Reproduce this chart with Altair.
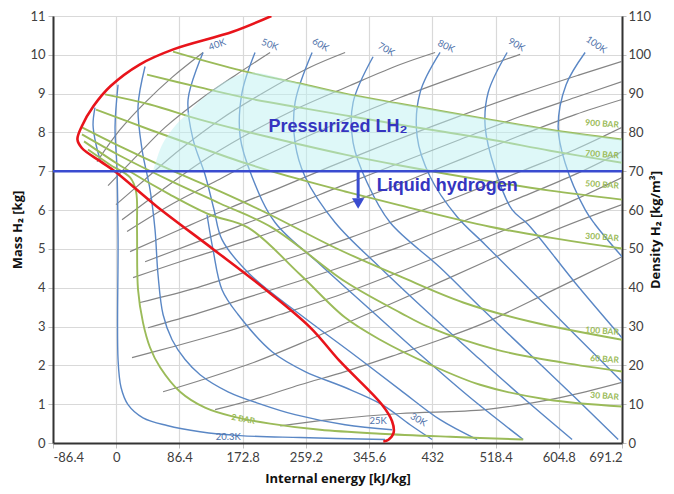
import altair as alt
import pandas as pd

# ---------------- axes ----------------
X_TICKS = [-86.4, 0, 86.4, 172.8, 259.2, 345.6, 432, 518.4, 604.8, 691.2]
MASS_TICKS = list(range(0, 12))
DENSITY_TICKS = list(range(0, 111, 10))

# ---------------- red boundary (melting / saturation) ----------------
RED_X = [212, 160, 78, 32, -8, -31, -47, -53, -47, -22, -2, 55, 132, 201, 265, 306, 363, 377, 379, 372, 365]
RED_Y = [11.0, 10.6, 10.14, 9.75, 9.19, 8.68, 8.16, 7.82, 7.6, 7.26, 7.0, 6.1, 5.0, 4.0, 2.98, 2.1, 0.99, 0.56, 0.26, 0.085, 0.04]

# ---------------- isotherms (blue) ----------------
T_LOW_X = [-29.0, -31.7, -27.6, -20.8]
T_LOW_Y = [8.64, 8.20, 7.69, 7.22]
T20_X = [2.5, -1.6, 1.1, 2.5, 2.5, 6.6, 16.1, 36.6, 69.4, 114.6, 169.3, 251.3, 367.4]
T20_Y = [9.23, 8.15, 7.04, 5.24, 2.15, 1.43, 0.99, 0.65, 0.45, 0.29, 0.19, 0.14, 0.09]
T25_X = [39.4, 29.8, 35.3, 46.2, 53.0, 57.1, 64.0, 76.3, 94.1, 114.6, 152.8, 199.3, 244.4, 312.8, 377.0]
T25_Y = [9.70, 8.67, 7.56, 6.53, 5.50, 4.34, 3.31, 2.66, 2.15, 1.76, 1.32, 0.99, 0.73, 0.47, 0.34]
T30_X = [124.1, 132.3, 144.6, 166.5, 213.0, 258.1, 312.8, 363.3, 401.6, 431.7]
T30_Y = [5.88, 4.98, 3.95, 3.31, 2.35, 1.84, 1.43, 0.99, 0.47, 0.09]
T40_X = [118.7, 98.2, 105.0, 121.4, 133.7, 144.6, 182.9, 251.3, 319.6, 388.0, 442.6, 493.2]
T40_Y = [10.06, 8.85, 7.82, 6.91, 6.01, 5.24, 4.34, 3.31, 2.35, 1.37, 0.60, 0.09]
T50_X = [189.7, 172.0, 169.3, 185.6, 217.1, 278.6, 346.9, 415.3, 483.6, 556.1]
T50_Y = [10.06, 9.03, 7.90, 6.86, 5.68, 4.60, 3.44, 2.28, 1.17, 0.09]
T60_X = [267.7, 244.4, 244.4, 258.1, 299.1, 360.6, 429.0, 497.3, 558.8, 623.0]
T60_Y = [10.06, 8.77, 7.74, 6.86, 5.68, 4.52, 3.31, 2.15, 1.12, 0.09]
T70_X = [351.0, 323.7, 323.7, 342.8, 374.3, 442.6, 504.2, 565.6, 627.1, 686.0]
T70_Y = [9.95, 8.77, 7.74, 6.71, 5.68, 4.52, 3.38, 2.28, 1.17, 0.09]
T80_X = [442.6, 415.3, 411.2, 429.0, 465.8, 504.2, 565.6, 627.1, 691.2]
T80_Y = [10.06, 9.03, 7.90, 6.86, 5.83, 5.11, 3.95, 2.79, 1.58]
T90_X = [534.2, 508.3, 504.2, 517.8, 541.0, 562.9, 627.1, 691.2]
T90_Y = [10.06, 9.03, 8.15, 7.04, 6.01, 5.63, 4.13, 2.71]
T100_X = [640.8, 614.8, 603.9, 613.4, 640.8, 654.5, 691.2]
T100_Y = [10.06, 9.23, 8.15, 7.22, 6.01, 5.63, 4.80]

# ---------------- isobars (green) ----------------
P900_X = [77.6, 114.6, 182.9, 251.3, 312.8, 388.0, 511.0, 593.0, 691.2]
P900_Y = [10.08, 9.88, 9.54, 9.26, 9.00, 8.74, 8.33, 8.07, 7.82]
P700_X = [42.1, 114.6, 182.9, 251.3, 312.8, 388.0, 511.0, 593.0, 691.2]
P700_Y = [9.49, 9.16, 8.87, 8.64, 8.44, 8.20, 7.82, 7.53, 7.22]
P500_X = [-15.3, 46.2, 114.6, 182.9, 251.3, 312.8, 388.0, 511.0, 593.0, 691.2]
P500_Y = [8.98, 8.72, 8.33, 8.00, 7.69, 7.43, 7.15, 6.74, 6.50, 6.27]
P300_X = [-27.6, 46.2, 114.6, 182.9, 251.3, 312.8, 388.0, 511.0, 593.0, 691.2]
P300_Y = [8.59, 8.07, 7.61, 7.17, 6.79, 6.48, 6.12, 5.57, 5.29, 5.01]
P100_X = [-46.8, 5.2, 73.5, 141.9, 210.3, 299.1, 388.0, 474.1, 565.6, 691.2]
P100_Y = [8.13, 7.64, 7.04, 6.48, 5.88, 5.03, 4.29, 3.62, 3.13, 2.66]
P60_X = [-46.8, 5.2, 73.5, 141.9, 213.0, 312.8, 388.0, 429.0, 520.5, 610.7, 691.2]
P60_Y = [7.95, 7.40, 6.76, 6.17, 5.55, 4.16, 3.36, 2.97, 2.40, 2.07, 1.84]
P30_X = [-44.0, 5.2, 73.5, 128.2, 180.2, 251.3, 312.8, 360.6, 429.0, 497.3, 588.9, 691.2]
P30_Y = [7.77, 7.15, 6.40, 5.88, 5.55, 4.34, 3.23, 2.66, 2.02, 1.50, 1.12, 0.94]
P2_X = [-38.6, -8.5, 18.9, 27.1, 28.4, 29.8, 36.6, 46.2, 59.9, 87.2, 121.4, 159.7, 210.3, 278.6, 360.6, 456.3, 556.1]
P2_Y = [7.56, 7.17, 6.84, 6.48, 5.50, 3.95, 3.10, 2.46, 1.95, 1.32, 0.91, 0.68, 0.50, 0.34, 0.24, 0.16, 0.09]

# ---------------- gray curves ----------------
G1_X = [-26.2, 5.2, 39.4, 76.3, 118.7]
G1_Y = [7.25, 8.07, 8.77, 9.42, 10.06]
G2_X = [-11.2, 25.7, 66.7, 114.6, 162.4, 210.3]
G2_Y = [6.63, 7.35, 8.13, 8.85, 9.47, 10.06]
G3_X = [-0.3, 39.4, 87.2, 141.9, 203.4, 265.0, 312.8]
G3_Y = [6.14, 6.79, 7.56, 8.33, 9.05, 9.68, 10.06]
G4_X = [7.9, 59.9, 114.6, 176.1, 244.4, 319.6, 388.0, 435.8]
G4_Y = [5.75, 6.48, 7.22, 7.92, 8.59, 9.21, 9.75, 10.06]
G5_X = [14.8, 77.6, 137.8, 187.0, 251.3, 319.6, 388.0, 470.0, 552.0]
G5_Y = [5.45, 6.17, 6.76, 7.25, 7.82, 8.38, 8.90, 9.47, 10.01]
G6_X = [18.9, 87.2, 155.6, 224.0, 292.3, 374.3, 456.3, 552.0, 634.0, 691.2]
G6_Y = [4.93, 5.50, 6.06, 6.58, 7.12, 7.74, 8.33, 8.98, 9.49, 9.83]
G7_X = [39.4, 100.9, 169.3, 237.6, 306.0, 388.0, 470.0, 552.0, 627.1, 691.2]
G7_Y = [4.67, 5.11, 5.60, 6.09, 6.61, 7.22, 7.82, 8.41, 8.90, 9.31]
G8_X = [23.0, 87.2, 182.9, 251.3, 319.6, 388.0, 470.0, 552.0, 627.1, 691.2]
G8_Y = [4.26, 4.67, 5.24, 5.70, 6.19, 6.68, 7.30, 7.92, 8.46, 8.85]
G9_X = [32.5, 100.9, 182.9, 251.3, 319.6, 388.0, 470.0, 552.0, 627.1, 691.2]
G9_Y = [3.62, 3.95, 4.44, 4.85, 5.29, 5.78, 6.37, 6.99, 7.56, 8.13]
G10_X = [43.5, 114.6, 182.9, 251.3, 306.0, 388.0, 470.0, 552.0, 627.1, 691.2]
G10_Y = [2.97, 3.36, 3.77, 4.18, 4.52, 5.06, 5.68, 6.32, 6.92, 7.51]
G11_X = [21.6, 73.5, 141.9, 224.0, 306.0, 388.0, 470.0, 552.0, 627.1, 691.2]
G11_Y = [2.20, 2.46, 2.82, 3.31, 3.82, 4.41, 5.03, 5.65, 6.27, 6.84]
G12_X = [64.0, 114.6, 182.9, 251.3, 319.6, 388.0, 504.2, 595.7, 691.2]
G12_Y = [1.32, 1.61, 2.04, 2.56, 3.13, 3.69, 4.67, 5.45, 6.14]
G13_X = [135.1, 196.6, 251.3, 312.8, 383.8, 442.6, 504.2, 593.0, 691.2]
G13_Y = [0.86, 1.17, 1.50, 1.84, 2.28, 2.66, 3.10, 3.90, 4.80]
G14_X = [224.0, 292.3, 388.0, 504.2, 606.6, 691.2]
G14_Y = [0.44, 0.60, 0.76, 0.86, 1.17, 1.56]

# ---------------- pressurized LH2 zone ----------------
ZONE_X = [50.3, 59.9, 76.3, 98.2, 121.4, 148.7, 182.9, 251.3, 312.8, 388.0, 511.0, 593.0, 691.2]
ZONE_TOP = [7.0, 7.56, 8.07, 8.51, 8.93, 9.31, 9.54, 9.26, 9.00, 8.74, 8.33, 8.07, 7.82]
LH2_LIMIT = 7.0

# ---------------- labels ----------------
ISO_LABELS = ["40K", "50K", "60K", "70K", "80K", "90K", "100K", "20.3K", "25K", "30K"]
ISO_LX = [138, 210, 279, 369, 451, 547, 656, 153, 358, 413]
ISO_LY = [10.26, 10.26, 10.26, 10.14, 10.22, 10.26, 10.26, 0.16, 0.57, 0.60]
ISO_ANG = [340, 20, 30, 30, 25, 30, 35, 0, 0, 30]

BAR_LABELS = ["900 BAR", "700 BAR", "500 BAR", "300 BAR", "100 BAR", "60 BAR", "30 BAR"]
BAR_LY = [8.20, 7.41, 6.63, 5.28, 2.86, 2.14, 1.19]
BAR_LX = [687] * 7

# ---------------- build tables ----------------
def long_table(named):
    rows = []
    for name, xs, ys in named:
        for i, (x, y) in enumerate(zip(xs, ys)):
            rows.append({"curve": name, "i": i, "x": x, "y": y})
    return pd.DataFrame(rows)

red_df = long_table([("red", RED_X, RED_Y)])
blue_df = long_table([
    ("low", T_LOW_X, T_LOW_Y), ("20.3K", T20_X, T20_Y), ("25K", T25_X, T25_Y),
    ("30K", T30_X, T30_Y), ("40K", T40_X, T40_Y), ("50K", T50_X, T50_Y),
    ("60K", T60_X, T60_Y), ("70K", T70_X, T70_Y), ("80K", T80_X, T80_Y),
    ("90K", T90_X, T90_Y), ("100K", T100_X, T100_Y)])
green_df = long_table([
    ("900", P900_X, P900_Y), ("700", P700_X, P700_Y), ("500", P500_X, P500_Y),
    ("300", P300_X, P300_Y), ("100", P100_X, P100_Y), ("60", P60_X, P60_Y),
    ("30", P30_X, P30_Y), ("2", P2_X, P2_Y)])
gray_df = long_table([
    ("g1", G1_X, G1_Y), ("g2", G2_X, G2_Y), ("g3", G3_X, G3_Y), ("g4", G4_X, G4_Y),
    ("g5", G5_X, G5_Y), ("g6", G6_X, G6_Y), ("g7", G7_X, G7_Y), ("g8", G8_X, G8_Y),
    ("g9", G9_X, G9_Y), ("g10", G10_X, G10_Y), ("g11", G11_X, G11_Y),
    ("g12", G12_X, G12_Y), ("g13", G13_X, G13_Y), ("g14", G14_X, G14_Y)])
zone_df = pd.DataFrame({"x": ZONE_X, "y": ZONE_TOP, "y2": [LH2_LIMIT] * len(ZONE_X)})

FONT = "Lato"
TITLE_FONT = "Open Sans"
xscale = alt.Scale(domain=[-86.4, 691.2], nice=False, zero=False)
yscale = alt.Scale(domain=[0, 11], nice=False, zero=False)
xaxis = alt.Axis(values=X_TICKS, title="Internal energy [kJ/kg]", format=".1~f",
                 labelExpr="replace(datum.label, '\u2212', '-')",
                 titlePadding=8)
yaxis = alt.Axis(values=MASS_TICKS, title="Mass H\u2082 [kg]", format="d", titlePadding=5)

X = alt.X("x:Q", scale=xscale, axis=xaxis)
Y = alt.Y("y:Q", scale=yscale, axis=yaxis)


def lines(df, color, width):
    return alt.Chart(df).mark_line(color=color, strokeWidth=width,
                                   interpolate="catmull-rom", clip=True).encode(
        x=X, y=Y, detail="curve:N", order="i:Q")

gray = lines(gray_df, "#858585", 1.2)
blue = lines(blue_df, "#5A87C5", 1.4)
green = lines(green_df, "#9BBB59", 1.9)
red = lines(red_df, "#E8141B", 2.6)

zone = alt.Chart(zone_df).mark_area(color="#BDF1F1", opacity=0.5,
                                    interpolate="monotone", clip=True).encode(
    x=X, y=Y, y2="y2:Q")

hline = alt.Chart(pd.DataFrame({"y": [LH2_LIMIT]})).mark_rule(
    color="#3A4CD0", strokeWidth=2.6).encode(y=Y)

arrow_stem = alt.Chart(pd.DataFrame({"x": [330.6], "y": [LH2_LIMIT], "y2": [6.3]})).mark_rule(
    color="#3A4CD0", strokeWidth=3).encode(x=X, y=Y, y2="y2:Q")
arrow_head = alt.Chart(pd.DataFrame({"x": [330.6], "y": [6.17]})).mark_point(
    shape="triangle-down", filled=True, size=150, color="#3A4CD0", opacity=1).encode(x=X, y=Y)

texts_df = pd.DataFrame({"x": [303.0], "y": [8.13], "t": ["Pressurized LH\u2082"]})
title_zone = alt.Chart(texts_df).mark_text(
    font="Liberation Sans", fontSize=18, fontWeight="bold", color="#3535C0",
    align="center", baseline="middle").encode(x=X, y=Y, text="t:N")
liq_df = pd.DataFrame({"x": [356.0], "y": [6.63], "t": ["Liquid hydrogen"]})
liq_text = alt.Chart(liq_df).mark_text(
    font="Liberation Sans", fontSize=18, fontWeight="bold", color="#3535C0",
    align="left", baseline="middle").encode(x=X, y=Y, text="t:N")

iso_df = pd.DataFrame({"x": ISO_LX, "y": ISO_LY, "t": ISO_LABELS, "a": ISO_ANG})
iso_text = alt.Chart(iso_df).mark_text(
    font=FONT, fontSize=9.5, color="#4F72AA", align="center", baseline="middle").encode(
    x=X, y=Y, text="t:N", angle=alt.Angle("a:Q", scale=None))

bar_df = pd.DataFrame({"x": BAR_LX, "y": BAR_LY, "t": BAR_LABELS})
bar_text = alt.Chart(bar_df).mark_text(
    font=FONT, fontSize=8.5, fontWeight="bold", color="#9BBB59", align="right",
    baseline="middle", angle=4).encode(x=X, y=Y, text="t:N")
bar2_df = pd.DataFrame({"x": [173.6], "y": [0.62], "t": ["2 BAR"]})
bar2_text = alt.Chart(bar2_df).mark_text(
    font=FONT, fontSize=8.5, fontWeight="bold", color="#9BBB59", align="center",
    baseline="middle", angle=10).encode(x=X, y=Y, text="t:N")

main = alt.layer(gray, blue, green, red, zone, hline, arrow_stem, arrow_head,
                 title_zone, liq_text, iso_text, bar_text, bar2_text)

right_axis = alt.Chart(pd.DataFrame({"d": [0, 110]})).mark_point(opacity=0).encode(
    y=alt.Y("d:Q", scale=alt.Scale(domain=[0, 110], nice=False),
            axis=alt.Axis(orient="right", values=DENSITY_TICKS, grid=False,
                          title="Density H\u2082 [kg/m\u00b3]", titleAngle=270,
                          titlePadding=12, labelPadding=2, tickSize=4)))

chart = alt.layer(main, right_axis).resolve_scale(y="independent").properties(
    width=569, height=427,
    padding={"left": 45, "top": 8, "right": 44, "bottom": 50},
    autosize=alt.AutoSizeParams(type="none"),
).configure_view(stroke="#222222", strokeWidth=1).configure_axis(
    labelFont=FONT, labelFontSize=13, labelColor="#404040",
    titleFont=TITLE_FONT, titleFontSize=13, titleFontWeight="bold", titleColor="#111111",
    gridColor="#D9D9D9", gridWidth=1.2,
    domainColor="#333333", domainWidth=2,
    tickColor="#BFBFBF", tickSize=5, labelPadding=3,
)

chart.save("out.html", embed_options={"renderer": "svg", "actions": False})
